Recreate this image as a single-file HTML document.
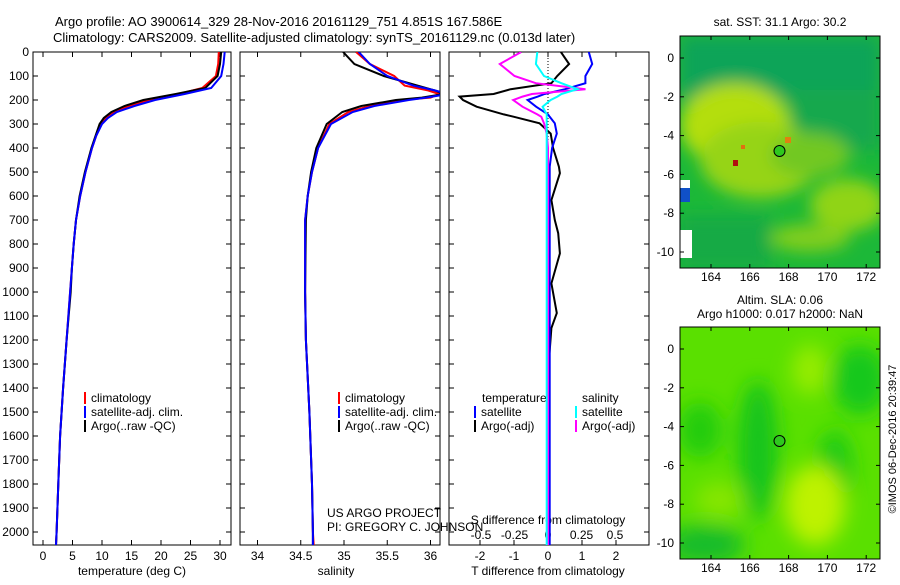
<!DOCTYPE html>
<html><head><meta charset="utf-8"><style>
body{margin:0;background:#fff;}
svg text{font-family:"Liberation Sans",sans-serif;font-size:12px;fill:#000;}
</style></head><body>
<svg id="fig" width="900" height="580" xmlns="http://www.w3.org/2000/svg">
<defs>
<filter id="bl1" x="-30%" y="-30%" width="160%" height="160%"><feGaussianBlur stdDeviation="8"/></filter>
<filter id="bl2" x="-30%" y="-30%" width="160%" height="160%"><feGaussianBlur stdDeviation="10"/></filter>
<clipPath id="c1"><rect x="680" y="36" width="200" height="232"/></clipPath>
<clipPath id="c2"><rect x="680" y="327" width="200" height="232"/></clipPath>
<clipPath id="p1"><rect x="33" y="52" width="198" height="493"/></clipPath>
<clipPath id="p2"><rect x="240" y="52" width="200" height="493"/></clipPath>
<clipPath id="p3"><rect x="449" y="52" width="200" height="493"/></clipPath>
</defs>
<text x="55" y="26" style="font-size:13px">Argo profile: AO 3900614_329 28-Nov-2016 20161129_751 4.851S 167.586E</text>
<text x="53" y="42" style="font-size:13px">Climatology: CARS2009. Satellite-adjusted climatology: synTS_20161129.nc (0.013d later)</text>
<g id="axes"></g>
<g id="series"></g>
<!-- SST map -->
<g>
<g clip-path="url(#c1)">
<rect x="680" y="36" width="200" height="232" fill="#1cb838"/>
<g filter="url(#bl1)">
<rect x="680" y="36" width="200" height="65" fill="#10a458"/>
<rect x="790" y="90" width="90" height="60" fill="#12a84e"/>
<ellipse cx="735" cy="125" rx="55" ry="42" fill="#b4de10"/>
<ellipse cx="760" cy="160" rx="60" ry="38" fill="#96d418"/>
<ellipse cx="810" cy="155" rx="40" ry="22" fill="#72c820"/>
<ellipse cx="848" cy="205" rx="38" ry="26" fill="#90d418"/>
<ellipse cx="810" cy="238" rx="40" ry="14" fill="#80ce1c"/>
<rect x="680" y="215" width="90" height="55" fill="#14aa44"/>
</g>
<rect x="680" y="180" width="10" height="18" fill="#fff"/>
<rect x="680" y="188" width="10" height="14" fill="#1050c8"/>
<rect x="680" y="230" width="12" height="28" fill="#fff"/>
<rect x="733" y="160" width="5" height="6" fill="#b01010"/>
<rect x="741" y="145" width="4" height="4" fill="#e07010"/>
<rect x="785" y="137" width="6" height="6" fill="#e08010"/>
</g>
<rect x="680" y="36" width="200" height="232" fill="none" stroke="#000"/>
<circle cx="779.5" cy="151" r="5.5" fill="#2ec81e" stroke="#000"/>
<text x="780" y="26" text-anchor="middle">sat. SST: 31.1 Argo: 30.2</text>
</g>
<!-- SLA map -->
<g>
<g clip-path="url(#c2)">
<rect x="680" y="327" width="200" height="232" fill="#5ae000"/>
<g filter="url(#bl2)">
<ellipse cx="758" cy="450" rx="20" ry="70" fill="#14c41c"/>
<ellipse cx="700" cy="430" rx="22" ry="28" fill="#24cc10"/>
<ellipse cx="860" cy="380" rx="28" ry="35" fill="#14c81c"/>
<ellipse cx="835" cy="470" rx="18" ry="40" fill="#1cca16"/>
<ellipse cx="705" cy="545" rx="40" ry="20" fill="#14bc2c"/>
<ellipse cx="815" cy="505" rx="30" ry="40" fill="#bef200"/>
<ellipse cx="810" cy="370" rx="18" ry="25" fill="#96ec00"/>
<ellipse cx="720" cy="500" rx="25" ry="18" fill="#86e600"/>
</g>
</g>
<rect x="680" y="327" width="200" height="232" fill="none" stroke="#000"/>
<circle cx="779.5" cy="441" r="5.5" fill="#2ec81e" stroke="#000"/>
<text x="780" y="304" text-anchor="middle">Altim. SLA: 0.06</text>
<text x="780" y="318" text-anchor="middle">Argo h1000: 0.017 h2000: NaN</text>
</g>
<g id="mapaxes"></g>
<text transform="translate(896,439) rotate(-90)" text-anchor="middle" style="font-size:11px">©IMOS 06-Dec-2016 20:39:47</text>
<text x="327" y="517">US ARGO PROJECT</text>
<text x="327" y="531">PI: GREGORY C. JOHNSON</text>
</svg>
<script>
// ---- data ----
const depthT = [0,50,100,150,175,200,225,250,275,300,350,400,500,600,700,800,900,1000,1200,1400,1600,1800,2000,2054];
const tempClim = [29.8,29.7,29.3,27,23,18,14.5,12,10.6,9.8,9,8.3,7.2,6.3,5.6,5.2,4.9,4.6,4.0,3.4,2.9,2.6,2.3,2.2];
const tempArgo = [30.2,30.0,29.6,27.5,22.5,17,13.8,11.6,10.3,9.6,8.9,8.2,7.1,6.2,5.6,5.2,4.9,4.7,4.0,3.4,2.9,2.6,2.3,2.2];
const tempSat  = [30.8,30.6,30.2,28.5,24,19,15.5,12.5,11,10,9,8.3,7.2,6.3,5.6,5.2,4.9,4.6,4.0,3.4,2.9,2.6,2.3,2.2];
const depthS = [0,50,100,140,160,175,190,200,225,250,300,400,500,600,700,1000,1200,1500,1800,2000,2054];
const salClim = [35.14,35.3,35.58,35.7,35.97,36.1,36.0,35.65,35.3,35.05,34.83,34.7,34.63,34.58,34.55,34.55,34.56,34.6,34.63,34.64,34.65];
const salArgo = [34.99,35.12,35.46,35.85,36.05,36.15,35.9,35.6,35.2,34.98,34.8,34.68,34.62,34.58,34.56,34.55,34.56,34.6,34.63,34.64,34.64];
const salSat  = [35.17,35.3,35.5,35.8,36.05,36.2,35.95,35.75,35.35,35.1,34.85,34.7,34.63,34.58,34.55,34.55,34.56,34.6,34.63,34.64,34.64];
const depthD = [0,50,100,130,155,175,186,200,228,260,270,297,340,400,478,505,617,700,755,839,964,1088,1150,1300,2054];
const dtArgo = [0.38,0.62,0.27,0.1,-1.1,-1.6,-2.6,-2.5,-2.1,-1.3,-1.0,-0.25,0.08,0.15,0.32,0.35,0.1,0.2,0.3,0.35,0.1,0.26,0.1,0.02,0.0];
const dtSat  = [1.2,1.3,1.1,1.1,0.5,-0.1,-0.3,-0.6,-0.35,0,0.05,0.2,0.26,0.12,0.05,0.05,0.05,0.05,0.05,0.05,0.05,0.05,0.05,0.05,0.05];
const dsArgo = [-0.2,-0.36,-0.25,-0.09,0.28,-0.12,-0.19,-0.26,-0.19,-0.08,-0.05,-0.03,-0.01,0,0,0,0,0,0,0,0,0,0,0,0];
const dsSat  = [-0.08,-0.09,-0.03,0.1,0.22,0.1,0.07,0.02,-0.04,-0.01,-0.01,-0.01,-0.01,-0.01,-0.01,-0.01,-0.01,-0.01,-0.01,-0.01,-0.01,-0.01,-0.01,-0.01,-0.01];
const depthTicks = [0,100,200,300,400,500,600,700,800,900,1000,1100,1200,1300,1400,1500,1600,1700,1800,1900,2000];
const tempTicks = [0,5,10,15,20,25,30];
const salTicks = [34,34.5,35,35.5,36];
const dtTicks = [-2,-1,0,1,2];
const dsTicks = [-0.5,-0.25,0,0.25,0.5];
const lonTicks = [164,166,168,170,172];
const latTicks = [0,-2,-4,-6,-8,-10];

// ---- scales ----
const yD = d => 52 + d*0.24;
const xT = t => 43 + t*5.9;
const xS = s => 257.5 + (s-34)*86.5;
const xDT = v => 548 + v*34;
const xDS = v => 548 + v*134;
const xLon = l => 711 + (l-164)*19.4;

const NS='http://www.w3.org/2000/svg';
const ax=document.getElementById('axes'), se=document.getElementById('series'), ma=document.getElementById('mapaxes');
function mk(tag,attrs,parent){const e=document.createElementNS(NS,tag);for(const k in attrs)e.setAttribute(k,attrs[k]);parent.appendChild(e);return e;}
function txt(x,y,s,anchor,parent){const e=mk('text',{x:x,y:y,'text-anchor':anchor},parent);e.textContent=s;return e;}

const panels=[[33,231,'p1'],[240,440,'p2'],[449,649,'p3']];
panels.forEach((p,i)=>{
  const r=mk('rect',{x:p[0],y:52,width:p[1]-p[0],height:493,fill:'none',stroke:'#000'},ax);
  
  
  depthTicks.forEach(d=>{
    mk('line',{x1:p[0],x2:p[0]+5,y1:yD(d),y2:yD(d),stroke:'#000'},ax);
    mk('line',{x1:p[1],x2:p[1]-5,y1:yD(d),y2:yD(d),stroke:'#000'},ax);
  });
});
depthTicks.forEach(d=>{const t=txt(29,yD(d)+4,String(d),'end',ax);
  
  });
function xticks(ticks,f,labelY){ticks.forEach(v=>{const x=f(v);
  mk('line',{x1:x,x2:x,y1:52,y2:57,stroke:'#000'},ax);
  mk('line',{x1:x,x2:x,y1:545,y2:540,stroke:'#000'},ax);
  const t=txt(x,labelY,String(v),'middle',ax);
  
  });}
xticks(tempTicks,xT,560);
xticks(salTicks,xS,560);
xticks(dtTicks,xDT,560);
dsTicks.forEach(v=>{const t=txt(xDS(v),539,String(v),'middle',ax);
  
  });
[['temperature (deg C)',132],['salinity',336],['T difference from climatology',548]].forEach(a=>{
  const t=txt(a[1],575,a[0],'middle',ax);
  
  });
{const t=txt(548,524,'S difference from climatology','middle',ax);
 
 }
mk('line',{x1:548,x2:548,y1:52,y2:yD(500),stroke:'#000','stroke-dasharray':'1,2'},ax);

function line(xs,ds,f,color,w,clip,name){
  const pts=xs.map((v,i)=>f(v).toFixed(1)+','+yD(ds[i]).toFixed(1)).join(' ');
  const g=mk('polyline',{points:pts,fill:'none',stroke:color,'stroke-width':w,'clip-path':'url(#'+clip+')'},se);
  
  
}
line(tempClim,depthT,xT,'#f00',2,'p1','temp-climatology-line');
line(tempArgo,depthT,xT,'#000',2,'p1','temp-argo-line');
line(tempSat,depthT,xT,'#00f',2,'p1','temp-satellite-line');
line(salClim,depthS,xS,'#f00',2,'p2','sal-climatology-line');
line(salArgo,depthS,xS,'#000',2,'p2','sal-argo-line');
line(salSat,depthS,xS,'#00f',2,'p2','sal-satellite-line');
line(dtArgo,depthD,xDT,'#000',2,'p3','tdiff-argo-line');
line(dtSat,depthD,xDT,'#00f',2,'p3','tdiff-satellite-line');
line(dsArgo,depthD,xDS,'#f0f',2,'p3','sdiff-argo-line');
line(dsSat,depthD,xDS,'#0ff',2,'p3','sdiff-satellite-line');

function legend(x,y,entries){entries.forEach((e,i)=>{
  mk('rect',{x:x,y:y+i*14-10,width:2,height:12,fill:e[1]},ax);
  const t=txt(x+7,y+i*14,e[0],'start',ax);
  
  });}
legend(84,402,[['climatology','#f00'],['satellite-adj. clim.','#00f'],['Argo(..raw -QC)','#000']]);
legend(338,402,[['climatology','#f00'],['satellite-adj. clim.','#00f'],['Argo(..raw -QC)','#000']]);
txt(482,402,'temperature','start',ax);
txt(582,402,'salinity','start',ax);
legend(474,416,[['satellite','#00f'],['Argo(-adj)','#000']]);
legend(575,416,[['satellite','#0ff'],['Argo(-adj)','#f0f']]);

// map axes
[[36,268,58,281],[327,559,349,572]].forEach(m=>{
  const yL=l=>m[2]+(-l)*19.4;
  lonTicks.forEach(l=>{const x=xLon(l);
    mk('line',{x1:x,x2:x,y1:m[0],y2:m[0]+4,stroke:'#000'},ma);
    mk('line',{x1:x,x2:x,y1:m[1],y2:m[1]-4,stroke:'#000'},ma);
    const t=txt(x,m[3],String(l),'middle',ma);
    
    });
  latTicks.forEach(l=>{const y=yL(l);
    mk('line',{x1:680,x2:684,y1:y,y2:y,stroke:'#000'},ma);
    mk('line',{x1:880,x2:876,y1:y,y2:y,stroke:'#000'},ma);
    const t=txt(674,y+4,String(l),'end',ma);
    
    });
});
</script>
</body></html>
